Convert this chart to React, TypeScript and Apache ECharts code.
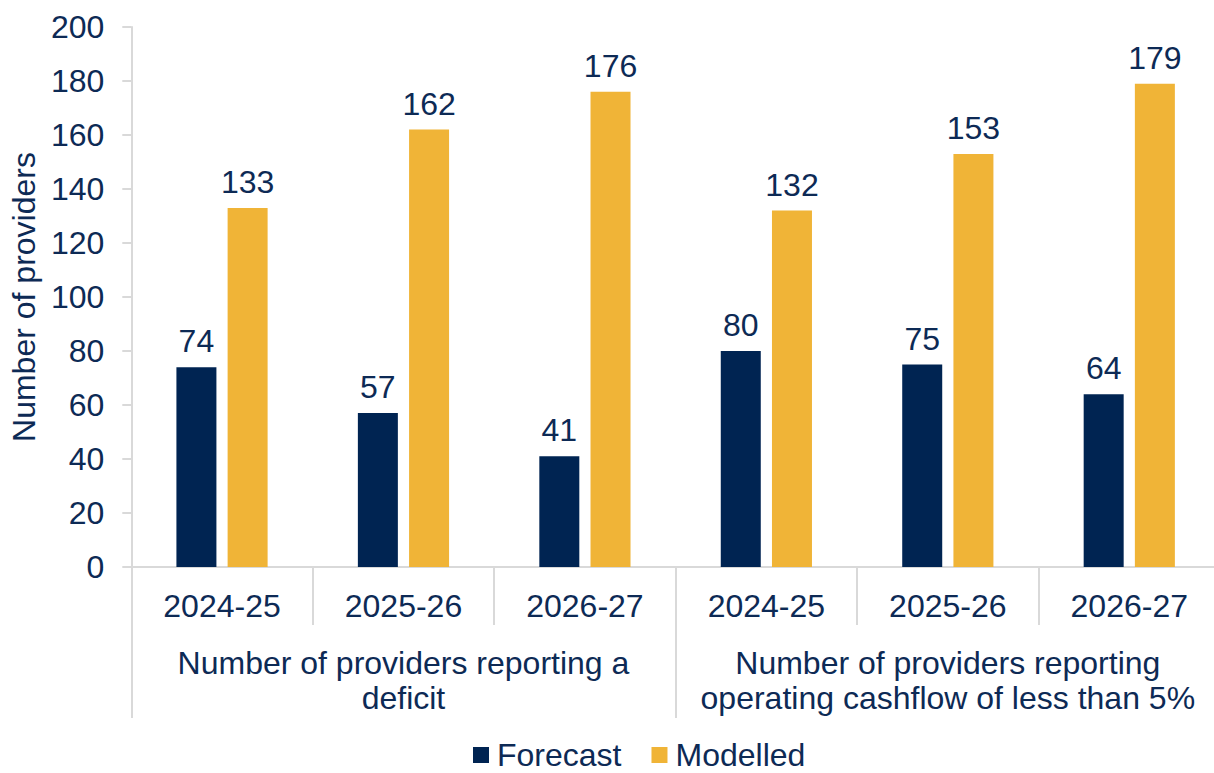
import React, { useEffect, useRef } from "react";
import * as echarts from "echarts";

const years = ["2024-25", "2025-26", "2026-27", "2024-25", "2025-26", "2026-27"];
const groups = [
  "Number of providers reporting a\ndeficit",
  "Number of providers reporting\noperating cashflow of less than 5%",
];
const forecast = [74, 57, 41, 80, 75, 64];
const modelled = [133, 162, 176, 132, 153, 179];
const yTicks = { min: 0, max: 200, interval: 20 };

const NAVY = "#002452";
const GOLD = "#F0B437";
const TEXT = "#0d2a55";
const GRAY = "#d9d9d9";
const FONT = "'Liberation Sans', Arial, sans-serif";
const FS = 32;

export default function App() {
  const ref = useRef<HTMLDivElement>(null);
  useEffect(() => {
    if (!ref.current) return;
    const chart = echarts.init(ref.current, null, { renderer: "svg" });
    chart.setOption({
      animation: false,
      textStyle: { fontFamily: FONT },
      grid: { left: 130, right: 0, top: 27, bottom: 206, containLabel: false },
      legend: {
        top: 734,
        left: 473 - 5,
        itemWidth: 16,
        itemHeight: 16,
        itemGap: 30,
        icon: "rect",
        textStyle: { fontSize: FS, color: TEXT, fontFamily: FONT, padding: [0, 0, 0, 3] },
        data: ["Forecast", "Modelled"],
      },
      xAxis: [
        {
          type: "category",
          data: years,
          position: "bottom",
          axisLine: { show: true, lineStyle: { color: GRAY, width: 2 } },
          axisTick: { show: true, interval: 0, length: 58, lineStyle: { color: GRAY, width: 2 } },
          axisLabel: { interval: 0, margin: 23, fontSize: FS, color: TEXT, fontFamily: FONT, lineHeight: 31 },
          splitLine: { show: false },
        },
        {
          type: "category",
          data: groups,
          position: "bottom",
          axisLine: { show: false },
          axisTick: { show: true, interval: 0, length: 151, lineStyle: { color: GRAY, width: 2 } },
          axisLabel: { interval: 0, margin: 78, fontSize: FS, color: TEXT, fontFamily: FONT, lineHeight: 35 },
          splitLine: { show: false },
        },
      ],
      yAxis: {
        type: "value",
        min: yTicks.min,
        max: yTicks.max,
        interval: yTicks.interval,
        name: "Number of providers",
        nameLocation: "middle",
        nameGap: 90,
        nameTextStyle: { fontSize: FS, color: TEXT, fontFamily: FONT },
        axisLine: { show: true, lineStyle: { color: GRAY, width: 2 } },
        axisTick: { show: true, length: 9, lineStyle: { color: GRAY, width: 2 } },
        axisLabel: { margin: 27, fontSize: FS, color: TEXT, fontFamily: FONT },
        splitLine: { show: false },
      },
      series: [
        {
          name: "Forecast",
          type: "bar",
          data: forecast,
          barWidth: 40,
          barGap: "28%",
          itemStyle: { color: NAVY },
          label: { show: true, position: "top", distance: 10, fontSize: FS, color: TEXT, fontFamily: FONT },
        },
        {
          name: "Modelled",
          type: "bar",
          data: modelled,
          barWidth: 40,
          barGap: "28%",
          itemStyle: { color: GOLD },
          label: { show: true, position: "top", distance: 10, fontSize: FS, color: TEXT, fontFamily: FONT },
        },
      ],
    });
    return () => chart.dispose();
  }, []);
  return (
    <div style={{ position: "absolute", left: 0, top: 0, width: 1214, height: 773, overflow: "hidden", background: "#fff" }}>
      <div ref={ref} style={{ position: "absolute", left: 0, top: 0, width: 1220, height: 773 }} />
    </div>
  );
}
